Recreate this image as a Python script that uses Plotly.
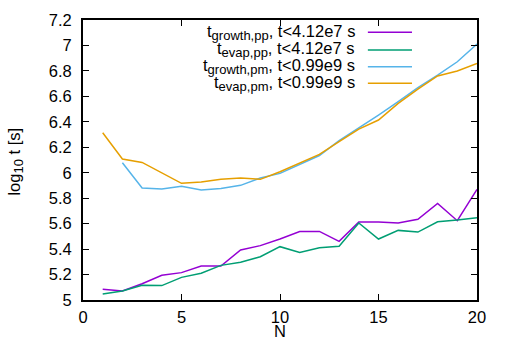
import plotly.graph_objects as go

N = list(range(1, 21))
growth_pp = [5.084, 5.071, 5.128, 5.194, 5.215, 5.267, 5.267, 5.393, 5.427, 5.479,
             5.538, 5.539, 5.461, 5.613, 5.613, 5.605, 5.634, 5.759, 5.623, 5.869]
evap_pp = [5.047, 5.071, 5.115, 5.113, 5.178, 5.210, 5.272, 5.296, 5.340, 5.419,
           5.373, 5.411, 5.422, 5.605, 5.479, 5.547, 5.534, 5.615, 5.628, 5.647]
N_pm_growth = list(range(2, 21))
growth_pm = [6.079, 5.880, 5.872, 5.893, 5.864, 5.877, 5.901, 5.958, 5.995,
             6.068, 6.135, 6.252, 6.350, 6.453, 6.558, 6.668, 6.767, 6.872, 7.011]
evap_pm = [6.314, 6.108, 6.081, 6.000, 5.917, 5.927, 5.948, 5.958, 5.948, 6.008,
           6.079, 6.144, 6.244, 6.343, 6.414, 6.545, 6.657, 6.760, 6.800, 6.859]

SUB = '<sub><span style="font-size:13px">{}</span></sub>'
labels = ["t" + SUB.format("growth,pp") + ", t&lt;4.12e7 s",
          "t" + SUB.format("evap,pp") + ", t&lt;4.12e7 s",
          "t" + SUB.format("growth,pm") + ", t&lt;0.99e9 s",
          "t" + SUB.format("evap,pm") + ", t&lt;0.99e9 s"]
colors = ["#9400d3", "#009e73", "#56b4e9", "#e69f00"]
xs = [N, N, N_pm_growth, N]
ys = [growth_pp, evap_pp, growth_pm, evap_pm]

x_ticks = [0, 5, 10, 15, 20]
x_tick_text = ["0", "5", "10", "15", "20"]
y_ticks = [5.0, 5.2, 5.4, 5.6, 5.8, 6.0, 6.2, 6.4, 6.6, 6.8, 7.0, 7.2]
y_tick_text = ["5", "5.2", "5.4", "5.6", "5.8", "6", "6.2", "6.4", "6.6", "6.8", "7", "7.2"]

FONT = "Liberation Sans, Arial, Helvetica, sans-serif"
FS = 16.5

fig = go.Figure()
for x, y, c, lab in zip(xs, ys, colors, labels):
    fig.add_trace(go.Scatter(x=x, y=y, mode="lines", line=dict(color=c, width=1.5),
                             name=lab, showlegend=False))

# manual gnuplot-style legend (text right-aligned, sample line to the right)
row_y = [0.956, 0.893, 0.833, 0.774]
for lab, c, yy in zip(labels, colors, row_y):
    fig.add_annotation(x=0.6954, y=yy, xref="paper", yref="paper", text=lab,
                       showarrow=False, xanchor="right", yanchor="middle",
                       font=dict(size=FS, color="black", family=FONT))
    fig.add_shape(type="line", xref="paper", yref="paper", x0=0.723, x1=0.835,
                  y0=yy, y1=yy, line=dict(color=c, width=1.5))

fig.add_annotation(x=-0.171, y=0.493, xref="paper", yref="paper",
                   text="log" + SUB.format("10") + " t [s]", textangle=-90,
                   showarrow=False, xanchor="center", yanchor="middle",
                   font=dict(size=FS, color="black", family=FONT))
fig.add_annotation(x=0.5, y=-0.109, xref="paper", yref="paper", text="N",
                   showarrow=False, xanchor="center", yanchor="middle",
                   font=dict(size=FS, color="black", family=FONT))

axis_common = dict(showgrid=False, zeroline=False, showline=True, linecolor="black",
                   linewidth=2, mirror="allticks", ticks="inside", ticklen=6,
                   tickwidth=1, tickcolor="black", tickmode="array",
                   tickfont=dict(size=FS, color="black", family=FONT))
fig.update_xaxes(range=[0, 20], tickvals=x_ticks, ticktext=x_tick_text,
                 ticklabelstandoff=1, **axis_common)
fig.update_yaxes(range=[5, 7.2], tickvals=y_ticks, ticktext=y_tick_text,
                 ticklabelstandoff=6, **axis_common)

fig.update_layout(width=507, height=355, margin=dict(l=83, r=30, t=20, b=55),
                  plot_bgcolor="white", paper_bgcolor="white",
                  font=dict(family=FONT, size=FS, color="black"))

# remove the browser's default page margin so the figure sits at the window origin
fig.write_html("out.html", config={"displayModeBar": False},
               post_script="document.body.style.margin='0';")
